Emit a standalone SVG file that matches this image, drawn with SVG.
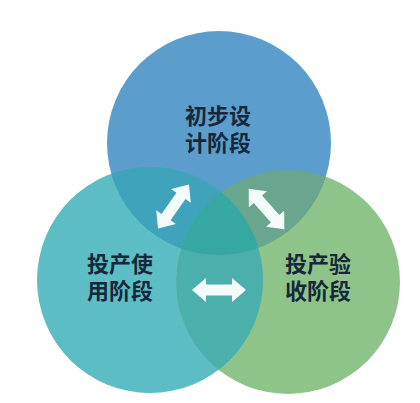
<svg xmlns="http://www.w3.org/2000/svg" xmlns:xlink="http://www.w3.org/1999/xlink" width="420" height="403" viewBox="0 0 420 403">
<style>
.lbl{font-family:"Noto Sans CJK SC","Noto Sans",sans-serif;font-weight:700;font-size:22px;fill:#16283a;text-anchor:middle}
.arr{fill:#f4fbfb}
</style>
<defs>
<clipPath id="cT"><circle cx="219" cy="143" r="112"/></clipPath>
<clipPath id="cL"><circle cx="150" cy="280" r="113"/></clipPath>
<clipPath id="cR"><circle cx="288" cy="282" r="112"/></clipPath>
<polygon id="dbl" points="-27,0 -13,-12 -13,-5.5 13,-5.5 13,-12 27,0 13,12 13,5.5 -13,5.5 -13,12"/>
</defs>
<rect width="420" height="403" fill="#ffffff"/>
<g id="node-left">
<circle cx="150" cy="280" r="113" fill="#5cbdc5"/>
</g>
<g id="node-right">
<circle cx="288" cy="282" r="112" fill="#8ec38a"/>
</g>
<g id="node-top">
<circle cx="219" cy="143" r="112" fill="#5b9dcc"/>
</g>
<g id="overlaps">
<circle cx="288" cy="282" r="112" fill="#4bb0ab" clip-path="url(#cL)"/>
<circle cx="150" cy="280" r="113" fill="#3fa3bc" clip-path="url(#cT)"/>
<circle cx="288" cy="282" r="112" fill="#6aa58d" clip-path="url(#cT)"/>
<g clip-path="url(#cT)"><circle cx="288" cy="282" r="112" fill="#35a8a2" clip-path="url(#cL)"/></g>
</g>
<g id="labels">
<text class="lbl" x="218" y="124">初步设</text>
<text class="lbl" x="218" y="151">计阶段</text>
<text class="lbl" x="120" y="272">投产使</text>
<text class="lbl" x="120" y="299">用阶段</text>
<text class="lbl" x="318" y="272">投产验</text>
<text class="lbl" x="318" y="299">收阶段</text>
</g>
<g id="connectors" class="arr">
<use xlink:href="#dbl" transform="translate(173.5,206.5) rotate(-55)"/>
<use xlink:href="#dbl" transform="translate(266.5,209) rotate(48.6)"/>
<use xlink:href="#dbl" transform="translate(219,290)"/>
</g>
</svg>
